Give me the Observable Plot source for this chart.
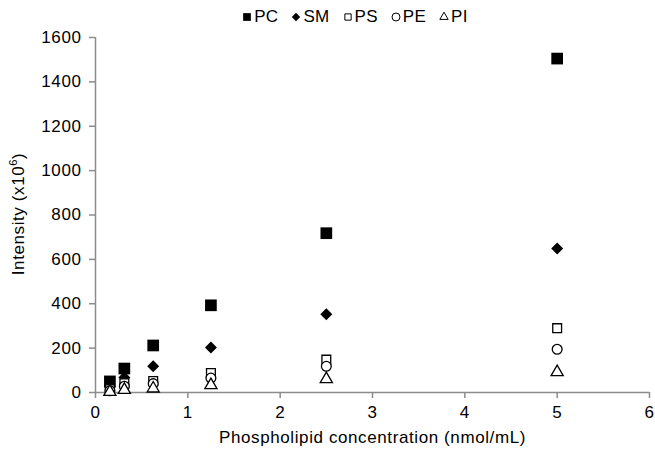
<!DOCTYPE html>
<html>
<head>
<meta charset="utf-8">
<script src="https://cdn.jsdelivr.net/npm/d3@7"></script>
<script src="https://cdn.jsdelivr.net/npm/@observablehq/plot@0.6"></script>
<style>
  html, body { margin: 0; padding: 0; background: #fff; }
  #wrap { position: relative; width: 655px; height: 451px; font-family: "Liberation Sans", Arial, sans-serif; }
  #legend { position: absolute; top: 7px; left: 0; width: 710px; display: flex; justify-content: center; gap: 13px; font-size: 17px; letter-spacing: 0.3px; color: #000; }
  #legend .item { display: flex; align-items: center; gap: 2px; }
  #legend svg { overflow: visible; }
  #chart svg text { letter-spacing: 0.6px; }
</style>
</head>
<body>
<div id="wrap">
  <div id="chart"></div>
  <div id="legend"></div>
</div>
<script>
const concentrations = [0.156, 0.3125, 0.625, 1.25, 2.5, 5];
const seriesNames = ["PC", "SM", "PS", "PE", "PI"];
const PC = [50, 108, 212, 393, 718, 1505];
const SM = [25, 68, 118, 203, 353, 649];
const PS = [15, 42, 52, 88, 148, 290];
const PE = [8, 28, 40, 65, 118, 195];
const PI = [3, 12, 18, 33, 60, 92];
const xTicks = [0, 1, 2, 3, 4, 5, 6];
const yTicks = [0, 200, 400, 600, 800, 1000, 1200, 1400, 1600];

const valuesBySeries = {PC, SM, PS, PE, PI};
const styles = {
  PC: {symbol: "square", fill: "black", stroke: "none", r: 6.6},
  SM: {symbol: "diamond2", fill: "black", stroke: "none", r: 5.4},
  PS: {symbol: "square2", fill: "white", stroke: "black", r: 5.6},
  PE: {symbol: "circle", fill: "white", stroke: "black", r: 4.9},
  PI: {symbol: "triangle2", fill: "white", stroke: "black", r: 5.8}
};

const data = seriesNames.flatMap(s => concentrations.map((c, i) => ({series: s, x: c, y: valuesBySeries[s][i]})));

const axisColor = "#8c8c8c";
const marks = [
  Plot.ruleY([0], {stroke: axisColor, strokeWidth: 1.5}),
  Plot.ruleX([0], {stroke: axisColor, strokeWidth: 1.5}),
  Plot.axisX({ticks: xTicks, tickSize: 6, tickPadding: 7, stroke: axisColor, strokeWidth: 1.5, fill: "black", fontSize: 17, label: null, tickFormat: d3.format("d")}),
  Plot.axisY({ticks: yTicks, tickSize: 6, tickPadding: 8, stroke: axisColor, strokeWidth: 1.5, fill: "black", fontSize: 17, label: null, tickFormat: d3.format("d")}),
  Plot.text(["Phospholipid concentration (nmol/mL)"], {frameAnchor: "bottom", dy: 50, fontSize: 17, fill: "black"}),
];
for (const s of seriesNames) {
  const st = styles[s];
  marks.push(Plot.dot(data.filter(d => d.series === s), {
    x: "x", y: "y", symbol: () => st.symbol, r: st.r,
    fill: st.fill, stroke: st.stroke, strokeWidth: 1.3
  }));
}

const plot = Plot.plot({
  width: 655, height: 451,
  marginLeft: 95, marginRight: 6, marginTop: 37, marginBottom: 59,
  style: {fontFamily: "'Liberation Sans', Arial, sans-serif", background: "white", color: "black", overflow: "visible"},
  x: {domain: [0, 6]},
  y: {domain: [0, 1600]},
  symbol: {type: "identity"},
  marks
});
document.getElementById("chart").appendChild(plot);

// Y label with superscript
const svg = d3.select(plot);
const yl = svg.append("text")
  .attr("transform", "translate(20,214) rotate(-90)")
  .attr("text-anchor", "middle")
  .attr("dominant-baseline", "middle")
  .attr("font-size", 17).attr("fill", "black")
  .attr("font-family", "'Liberation Sans', Arial, sans-serif");
yl.append("tspan").text("Intensity (x10");
yl.append("tspan").attr("baseline-shift", "super").attr("font-size", 11).text("6");
yl.append("tspan").text(")");

// Legend
const legend = d3.select("#legend");
for (const s of seriesNames) {
  const st = styles[s];
  const item = legend.append("div").attr("class", "item");
  const sv = item.append("svg").attr("width", 10).attr("height", 10).attr("viewBox", "-5 -5 10 10");
  const sym = {square: d3.symbolSquare, diamond2: d3.symbolDiamond2, square2: d3.symbolSquare2, circle: d3.symbolCircle, triangle2: d3.symbolTriangle2}[st.symbol];
  const size = s === "PC" ? 60 : s === "SM" ? 45 : 50;
  sv.append("path").attr("d", d3.symbol(sym, size)()).attr("fill", st.fill).attr("stroke", st.stroke).attr("stroke-width", 1);
  item.append("span").text(s);
}
</script>
</body>
</html>
